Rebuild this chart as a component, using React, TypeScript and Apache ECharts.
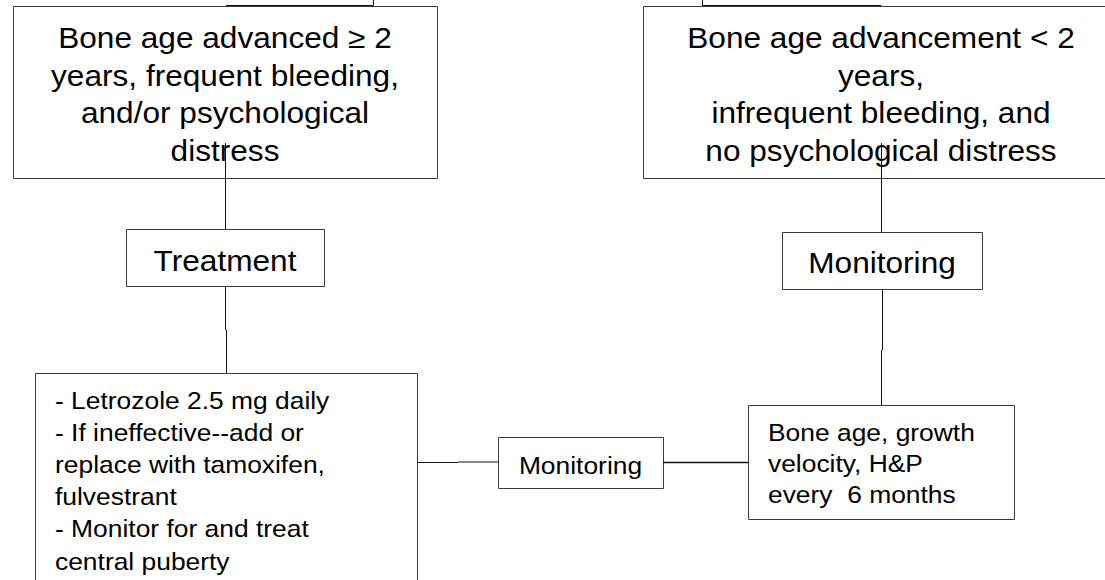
import React, { useEffect, useRef } from "react";
import * as echarts from "echarts";

// Node texts of the flowchart
const topLeftText = ["Bone age advanced ≥ 2", "years, frequent bleeding,", "and/or psychological", "distress"];
const topRightText = ["Bone age advancement < 2", "years,", "infrequent bleeding, and", "no psychological distress"];
const treatmentText = ["Treatment"];
const monitoringRightText = ["Monitoring"];
const treatmentDetailText = [
  "- Letrozole 2.5 mg daily",
  "- If ineffective--add or",
  "replace with tamoxifen,",
  "fulvestrant",
  "- Monitor for and treat",
  "central puberty",
];
const monitoringMidText = ["Monitoring"];
const followUpText = ["Bone age, growth", "velocity, H&P", "every  6 months"];

const FONT = "'Liberation Sans', Arial, Helvetica, sans-serif";
const BOX = "#3a3a3a";
const LINE = "#111";

function rect(x: number, y: number, w: number, h: number) {
  return {
    type: "rect",
    shape: { x: x + 0.5, y: y + 0.5, width: w, height: h },
    style: { fill: "#fff", stroke: BOX, lineWidth: 1 },
  };
}
function line(x1: number, y1: number, x2: number, y2: number, w = 1) {
  return {
    type: "line",
    shape: { x1, y1, x2, y2 },
    style: { stroke: LINE, lineWidth: w },
    z: 10,
  };
}
function text(lines: string[], x: number, y: number, size: number, lh: number, align: string, sx: number) {
  return {
    type: "text",
    x,
    y,
    scaleX: sx,
    z: 5,
    style: {
      text: lines.join("\n"),
      fontSize: size,
      fontFamily: FONT,
      fill: "#000",
      align,
      textAlign: align,
      verticalAlign: "top",
      textVerticalAlign: "top",
      lineHeight: lh,
    },
  };
}

export default function App() {
  const ref = useRef<HTMLDivElement>(null);
  useEffect(() => {
    if (!ref.current) return;
    const chart = echarts.init(ref.current, undefined, { renderer: "svg" });
    const elements: any[] = [
      rect(13, 6, 424, 172),
      rect(643, 6, 470, 172),
      rect(126, 229, 198, 57),
      rect(782, 232, 200, 57),
      rect(35, 373, 382, 220),
      rect(498, 437, 165, 51),
      rect(748, 405, 266, 114),

      text(topLeftText, 225, 19, 29, 37.7, "center", 1.09),
      text(topRightText, 881, 19, 29, 37.7, "center", 1.09),
      text(treatmentText, 225, 242, 29, 37.7, "center", 1.09),
      text(monitoringRightText, 882, 244, 29, 37.7, "center", 1.09),
      text(treatmentDetailText, 55, 384, 24, 32.2, "left", 1.1),
      text(monitoringMidText, 580.5, 449, 24, 32, "center", 1.1),
      text(followUpText, 768, 417, 24, 31, "left", 1.1),

      // top stubs
      line(373.5, 0, 373.5, 5.5),
      line(226, 5.5, 373.5, 5.5),
      line(702.5, 0, 702.5, 5.5),
      line(702.5, 5.5, 881, 5.5),
      // left column
      line(225.5, 143, 225.5, 229),
      line(225.5, 286, 225.5, 330),
      line(226.5, 330, 226.5, 373),
      // right column
      line(881.5, 143, 881.5, 232),
      line(882.5, 290, 882.5, 350),
      line(881.5, 350, 881.5, 405),
      // horizontal links
      line(417, 462.5, 458, 462.5),
      line(458, 462, 498, 462),
      line(663, 462.5, 748, 462.5, 1.5),
    ];
    chart.setOption({
      animation: false,
      graphic: { elements },
    });
    return () => chart.dispose();
  }, []);
  return (
    <div
      ref={ref}
      style={{ position: "fixed", left: 0, top: 0, width: 1105, height: 580, background: "#fff" }}
    />
  );
}
